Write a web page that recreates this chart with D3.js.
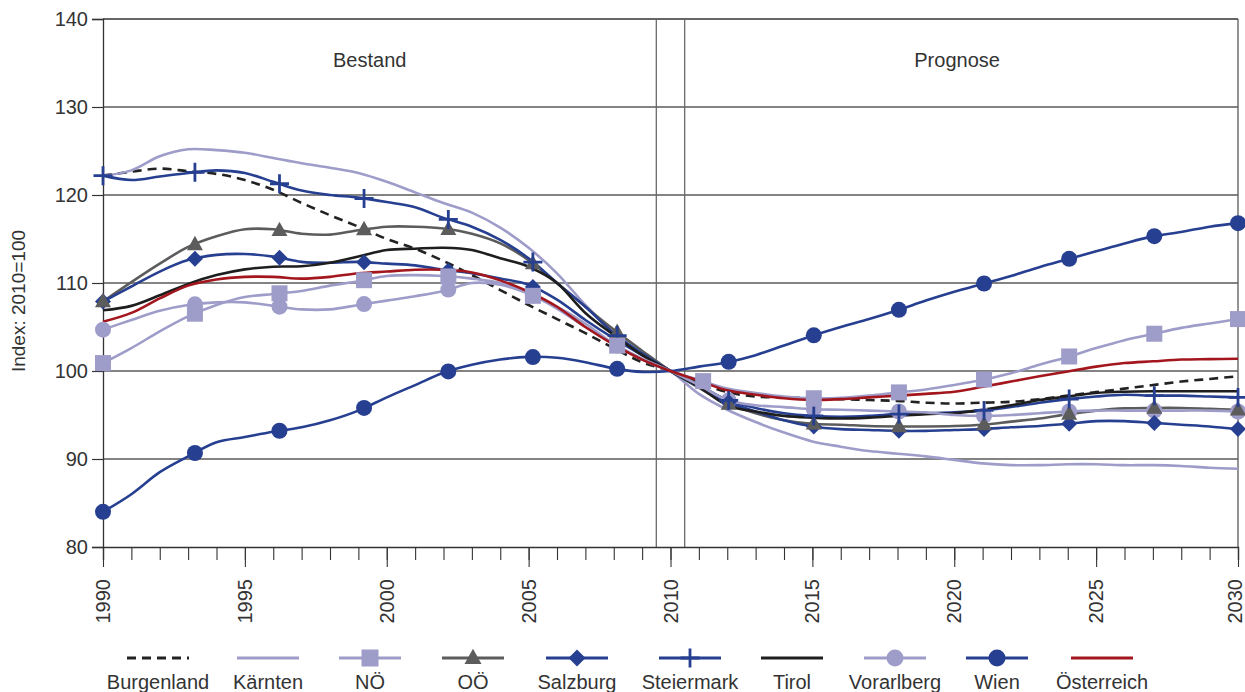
<!DOCTYPE html>
<html>
<head>
<meta charset="utf-8">
<script src="https://cdn.jsdelivr.net/npm/d3@7"></script>
<style>
  html, body { margin: 0; padding: 0; background: #fff; }
  svg { display: block; }
  text { font-family: "Liberation Sans", Arial, sans-serif; fill: #333; }
</style>
</head>
<body>
<svg id="chart" width="1245" height="692"></svg>
<script>
// ---------------- DATA ----------------
const years = [1990,1991,1992,1993,1994,1995,1996,1997,1998,1999,2000,2001,2002,2003,2004,2005,2006,2007,2008,2009,2010,
               2011,2012,2013,2014,2015,2016,2017,2018,2019,2020,2021,2022,2023,2024,2025,2026,2027,2028,2029,2030];
const tickLabelYears = [1990,1995,2000,2005,2010,2015,2020,2025,2030];
const yTickValues = [80,90,100,110,120,130,140];

const burgenland = [122.2,122.65,123.0,122.7,122.4,121.7,120.6,119.1,117.7,116.4,115.0,113.9,112.5,110.9,109.2,107.5,105.9,104.3,102.6,101.0,100,
                    98.7,97.6,97.1,97.0,96.9,96.8,96.7,96.6,96.4,96.3,96.4,96.5,96.8,97.2,97.6,98.0,98.4,98.8,99.1,99.4];
const kaernten   = [122.2,122.8,124.4,125.2,125.1,124.8,124.2,123.6,123.1,122.5,121.5,120.3,119.1,118.0,116.3,114.0,111.1,107.5,104.3,101.9,100,
                    97.4,95.6,94.2,93.0,92.0,91.4,90.9,90.6,90.3,89.9,89.5,89.3,89.3,89.4,89.4,89.3,89.3,89.2,89.0,88.9];
const noe        = [100.9,102.6,104.5,106.2,107.5,108.4,108.75,109.1,109.7,110.2,110.8,110.9,110.8,110.5,110.0,108.8,107.1,105.0,103.1,101.3,100,
                    99.0,98.0,97.5,97.1,96.9,96.95,97.2,97.55,97.9,98.4,99.0,99.75,100.7,101.6,102.6,103.5,104.2,104.9,105.4,105.9];
const ooe        = [107.9,110.1,112.2,114.1,115.3,116.1,116.1,115.6,115.5,116.0,116.4,116.4,116.2,115.6,114.5,112.6,110.0,107.3,104.7,102.3,100,
                    98.1,96.3,95.2,94.4,94.0,93.9,93.75,93.7,93.7,93.75,93.9,94.25,94.6,95.1,95.5,95.75,95.8,95.8,95.7,95.6];
const salzburg   = [107.9,109.6,111.3,112.6,113.2,113.3,113.0,112.4,112.3,112.4,112.2,112.0,111.5,111.1,110.5,109.8,108.1,105.8,103.7,101.8,100,
                    98.2,96.5,95.4,94.4,93.7,93.4,93.3,93.2,93.2,93.3,93.4,93.6,93.75,94.0,94.3,94.3,94.1,93.9,93.7,93.4];
const steiermark = [122.2,121.7,122.1,122.5,122.8,122.5,121.5,120.5,120.0,119.7,119.2,118.6,117.4,116.4,114.9,112.8,110.0,107.3,104.3,102.0,100,
                    98.4,96.7,95.8,95.2,94.9,94.8,94.9,95.1,95.2,95.3,95.5,95.9,96.4,96.8,97.1,97.3,97.2,97.2,97.1,97.0];
const tirol      = [106.9,107.4,108.6,109.9,110.9,111.55,111.85,111.9,112.3,113.0,113.75,113.9,114.0,113.75,112.8,111.85,110.0,106.6,104.1,101.8,100,
                    98.2,96.1,95.4,94.9,94.7,94.6,94.7,94.9,95.1,95.2,95.6,96.1,96.7,97.1,97.5,97.65,97.7,97.7,97.7,97.7];
const vorarlberg = [104.7,105.8,106.85,107.5,107.8,107.8,107.4,107.0,107.0,107.5,108.0,108.5,109.1,110.0,109.8,108.8,107.3,105.4,103.1,101.4,100,
                    98.4,96.7,96.1,95.9,95.65,95.6,95.5,95.4,95.3,95.0,94.9,95.0,95.2,95.4,95.5,95.5,95.5,95.5,95.5,95.4];
const wien       = [84.0,86.0,88.5,90.3,91.9,92.5,93.1,93.6,94.4,95.5,97.0,98.4,99.8,100.7,101.3,101.6,101.5,101.0,100.3,99.9,100,
                    100.5,101.0,101.8,102.9,104.0,105.0,105.9,106.9,108.0,109.0,109.9,110.8,111.8,112.7,113.6,114.5,115.3,115.8,116.4,116.8];
const oesterreich= [105.6,106.6,108.25,109.7,110.4,110.7,110.7,110.5,110.7,111.1,111.3,111.5,111.5,111.2,110.3,109.0,107.3,105.0,103.0,101.3,100,
                    98.9,97.8,97.3,96.9,96.7,96.8,97.0,97.2,97.4,97.65,98.2,98.8,99.4,99.95,100.5,100.9,101.1,101.3,101.35,101.4];

// years at which the markers sit
const markerYearsBestand   = [1990,1993.24,1996.22,1999.2,2002.17,2005.15,2008.12];
const markerYearsPrognose  = [2012.05,2015.05,2018.05,2021.05,2024.05,2027.05,2030];
const markerYearsPrognoseNOE = [2011.15,2015.05,2018.05,2021.05,2024.05,2027.05,2030];

const seriesNames = ["Burgenland","Kärnten","NÖ","OÖ","Salzburg","Steiermark","Tirol","Vorarlberg","Wien","Österreich"];
const seriesValues = [burgenland,kaernten,noe,ooe,salzburg,steiermark,tirol,vorarlberg,wien,oesterreich];

const periodLabels = ["Bestand","Prognose"];
const periodLabelYears = [1999.4, 2020.1];
const periodDividerYears = [2009.5, 2010.5];
const yAxisTitle = "Index: 2010=100";

// ---------------- STYLE ----------------
const LIGHT = "#9e9cc9", BLUE = "#263f90", GRAY = "#5c5c5c", BLACK = "#1e1e1e", RED = "#a3161d";
const styles = {
  "Burgenland": {color: "#222", dash: "9,6", marker: null},
  "Kärnten":    {color: LIGHT, marker: null},
  "NÖ":         {color: LIGHT, marker: "square"},
  "OÖ":         {color: GRAY,  marker: "triangle"},
  "Salzburg":   {color: BLUE,  marker: "diamond"},
  "Steiermark": {color: BLUE,  marker: "cross"},
  "Tirol":      {color: BLACK, marker: null},
  "Vorarlberg": {color: LIGHT, marker: "circle"},
  "Wien":       {color: BLUE,  marker: "circle"},
  "Österreich": {color: RED,   marker: null}
};
const markerDrawOrder = ["Vorarlberg","Salzburg","OÖ","Steiermark","NÖ","Wien"];
const legendCenters = [158, 268, 370, 473, 577, 690, 792, 895, 997, 1102];

// ---------------- CHART ----------------
const svg = d3.select("#chart");
const x = d3.scaleLinear().domain([1990, 2030]).range([103, 1238]);
const y = d3.scaleLinear().domain([80, 140]).range([547, 19]);

const series = seriesNames.map((name, i) => ({
  name, values: years.map((yr, j) => ({year: yr, value: seriesValues[i][j]})), style: styles[name]
}));

// gridlines
svg.append("g").selectAll("line").data(yTickValues.filter(v => v > 80))
  .join("line")
  .attr("x1", x(1990)).attr("x2", x(2030))
  .attr("y1", d => y(d)).attr("y2", d => y(d))
  .attr("stroke", d => d === 140 ? "#333" : "#5a5a5a").attr("stroke-width", 1.3);

// period dividers
svg.append("g").selectAll("line").data(periodDividerYears)
  .join("line")
  .attr("x1", d => x(d)).attr("x2", d => x(d))
  .attr("y1", y(140)).attr("y2", y(80))
  .attr("stroke", "#6a6a6a").attr("stroke-width", 1.3);

// right border
svg.append("line")
  .attr("x1", x(2030)).attr("x2", x(2030)).attr("y1", y(140)).attr("y2", y(80))
  .attr("stroke", "#5a5a5a").attr("stroke-width", 1.3);

// y axis
const yAxis = svg.append("g").attr("transform", `translate(${x(1990)},0)`)
  .call(d3.axisLeft(y).tickValues(yTickValues).tickSize(11).tickPadding(4).tickFormat(d3.format("d")));
yAxis.select(".domain").attr("stroke", "#333").attr("stroke-width", 1.3);
yAxis.selectAll(".tick line").attr("stroke", "#333").attr("stroke-width", 1.2);
yAxis.selectAll(".tick text").attr("font-size", 20).attr("fill", "#333")
  .style("font-family", '"Liberation Sans", Arial, sans-serif');

// x axis minor ticks (every year)
const xMinor = svg.append("g").attr("transform", `translate(0,${y(80)})`)
  .call(d3.axisBottom(x).tickValues(years).tickSize(13).tickFormat(""));
xMinor.select(".domain").attr("stroke", "#333").attr("stroke-width", 1.3);
xMinor.selectAll(".tick line").attr("stroke", "#333").attr("stroke-width", 1.1);

// x axis major ticks + labels
const xMajor = svg.append("g").attr("transform", `translate(0,${y(80)})`)
  .call(d3.axisBottom(x).tickValues(tickLabelYears).tickSize(20).tickFormat(d3.format("d")));
xMajor.select(".domain").remove();
xMajor.selectAll(".tick line").attr("stroke", "#333").attr("stroke-width", 1.1);
xMajor.selectAll(".tick text")
  .attr("font-size", 20)
  .attr("text-anchor", "end")
  .attr("transform", d => `translate(${d === 2030 ? -3 : 0},32) rotate(-90)`)
  .attr("x", 0).attr("y", 0).attr("dy", "0.33em")
  .attr("fill", d => d === 2010 ? "#3b56a6" : "#333")
  .style("font-family", '"Liberation Sans", Arial, sans-serif');

// y axis title
svg.append("text")
  .attr("transform", "translate(18,301) rotate(-90)")
  .attr("text-anchor", "middle").attr("dominant-baseline", "central")
  .attr("font-size", 19).text(yAxisTitle);

// period labels
svg.append("g").selectAll("text").data(periodLabels)
  .join("text")
  .attr("x", (d, i) => x(periodLabelYears[i])).attr("y", 67)
  .attr("text-anchor", "middle").attr("font-size", 20).text(d => d);

// lines
const line = d3.line().x(d => x(d.year)).y(d => y(d.value)).curve(d3.curveCardinal.tension(0));
svg.append("g").selectAll("path").data(series)
  .join("path")
  .attr("d", d => line(d.values))
  .attr("fill", "none")
  .attr("stroke", d => d.style.color)
  .attr("stroke-width", 2.6)
  .attr("stroke-dasharray", d => d.style.dash || null)
  .attr("stroke-linejoin", "round");

// marker helpers
function valueAt(vals, yr) {
  const i = Math.min(Math.floor(yr - years[0]), vals.length - 2);
  const t = yr - years[i];
  return vals[i] + (vals[i + 1] - vals[i]) * t;
}
function drawMarker(g, type, cx, cy, color, s) {
  if (type === "square") {
    g.append("rect").attr("x", cx - s/2).attr("y", cy - s/2).attr("width", s).attr("height", s).attr("fill", color);
  } else if (type === "circle") {
    g.append("circle").attr("cx", cx).attr("cy", cy).attr("r", s/2).attr("fill", color);
  } else if (type === "triangle") {
    const h = s * 0.9;
    g.append("path").attr("d", `M${cx},${cy - h*0.6}L${cx + s/2},${cy + h*0.4}L${cx - s/2},${cy + h*0.4}Z`).attr("fill", color);
  } else if (type === "diamond") {
    const r = s/2;
    g.append("path").attr("d", `M${cx},${cy - r}L${cx + r},${cy}L${cx},${cy + r}L${cx - r},${cy}Z`).attr("fill", color);
  } else if (type === "cross") {
    const r = s/2;
    g.append("path").attr("d", `M${cx - r},${cy}H${cx + r}M${cx},${cy - r}V${cy + r}`)
      .attr("stroke", color).attr("stroke-width", 2.8).attr("fill", "none");
  }
}
const markerSize = {square: 16, circle: 16, triangle: 16, diamond: 16, cross: 19};

const mg = svg.append("g");
markerDrawOrder.forEach(name => {
  const idx = seriesNames.indexOf(name);
  const st = styles[name];
  const vals = seriesValues[idx];
  const myears = markerYearsBestand.concat(name === "NÖ" ? markerYearsPrognoseNOE : markerYearsPrognose);
  myears.forEach(yr => drawMarker(mg, st.marker, x(yr), y(valueAt(vals, yr)), st.color, markerSize[st.marker]));
});

// legend
const lg = svg.append("g");
seriesNames.forEach((name, i) => {
  const cx = legendCenters[i], st = styles[name];
  const g = lg.append("g");
  g.append("line").attr("x1", cx - 31).attr("x2", cx + 31).attr("y1", 658).attr("y2", 658)
    .attr("stroke", st.color).attr("stroke-width", 3)
    .attr("stroke-dasharray", st.dash || null);
  if (st.marker) drawMarker(g, st.marker, cx, 658, st.color, st.marker === "cross" ? 19 : 17);
  g.append("text").attr("x", cx).attr("y", 689).attr("text-anchor", "middle").attr("font-size", 20).text(name);
});
</script>
</body>
</html>
